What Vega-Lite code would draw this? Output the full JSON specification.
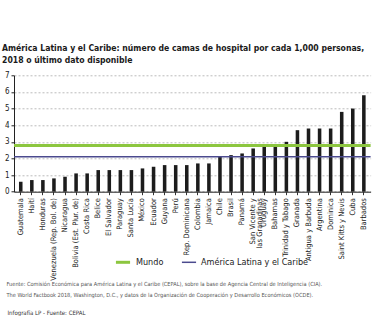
{
  "$schema": "https://vega.github.io/schema/vega-lite/v6.json",
  "width": 356.6,
  "height": 116.4,
  "autosize": {"type": "none"},
  "padding": {"left": 14, "top": 75.3, "right": 4.4, "bottom": 124.3},
  "background": "white",
  "title": {
    "text": ["América Latina y el Caribe: número de camas de hospital por cada 1,000 personas,", "2018 o último dato disponible"],
    "anchor": "start",
    "frame": "group",
    "dx": -12,
    "offset": 7,
    "font": "DejaVu Sans Condensed, Roboto, sans-serif",
    "fontWeight": "bold",
    "fontSize": 8.6,
    "lineHeight": 11.5,
    "color": "#1a1a1a"
  },
  "config": {
    "view": {"stroke": null},
    "font": "DejaVu Sans Condensed, Roboto, sans-serif"
  },
  "layer": [
    {
      "data": {"values": [
        {"pais": "Guatemala", "camas": 0.6},
        {"pais": "Haití", "camas": 0.7},
        {"pais": "Honduras", "camas": 0.7},
        {"pais": "Venezuela (Rep. Bol. de)", "camas": 0.8},
        {"pais": "Nicaragua", "camas": 0.9},
        {"pais": "Bolivia (Est. Plur. de)", "camas": 1.1},
        {"pais": "Costa Rica", "camas": 1.1},
        {"pais": "Belice", "camas": 1.3},
        {"pais": "El Salvador", "camas": 1.3},
        {"pais": "Paraguay", "camas": 1.3},
        {"pais": "Santa Lucía", "camas": 1.3},
        {"pais": "México", "camas": 1.4},
        {"pais": "Ecuador", "camas": 1.5},
        {"pais": "Guyana", "camas": 1.6},
        {"pais": "Perú", "camas": 1.6},
        {"pais": "Rep. Dominicana", "camas": 1.6},
        {"pais": "Colombia", "camas": 1.7},
        {"pais": "Jamaica", "camas": 1.7},
        {"pais": "Chile", "camas": 2.1},
        {"pais": "Brasil", "camas": 2.2},
        {"pais": "Panamá", "camas": 2.3},
        {"pais": "San Vicente y las Granadinas", "camas": 2.6},
        {"pais": "Uruguay", "camas": 2.8},
        {"pais": "Bahamas", "camas": 2.8},
        {"pais": "Trinidad y Tabago", "camas": 3.0},
        {"pais": "Granada", "camas": 3.7},
        {"pais": "Antigua y Barbuda", "camas": 3.8},
        {"pais": "Argentina", "camas": 3.8},
        {"pais": "Dominica", "camas": 3.8},
        {"pais": "Saint Kitts y Nevis", "camas": 4.8},
        {"pais": "Cuba", "camas": 5.0},
        {"pais": "Barbados", "camas": 5.8}
      ]},
      "mark": {"type": "bar", "color": "#1c1c1c"},
      "encoding": {
        "x": {
          "field": "pais", "type": "nominal", "sort": null,
          "scale": {"paddingInner": 0.68, "paddingOuter": 0.45},
          "axis": {
            "labelAngle": -90,
            "labelFont": "DejaVu Sans Condensed, Roboto, sans-serif",
            "labelFontSize": 7.5,
            "labelColor": "#222",
            "labelPadding": 3,
            "labelExpr": "datum.label == 'San Vicente y las Granadinas' ? ['San Vicente y', 'las Granadinas'] : datum.label",
            "labelLineHeight": 6.5,
            "tickColor": "#333",
            "tickSize": 3,
            "domainColor": "#222",
            "title": ["Fuente: Comisión Económica para América Latina y el Caribe (CEPAL), sobre la base de Agencia Central de Inteligencia (CIA).", "The World Factbook 2018, Washington, D.C., y datos de la Organización de Cooperación y Desarrollo Económicos (OCDE)."],
            "titleFont": "DejaVu Sans Condensed, Roboto, sans-serif",
            "titleFontSize": 5.6,
            "titleFontWeight": "normal",
            "titleColor": "#555",
            "titleAnchor": "start",
            "titleAlign": "left",
            "titleBaseline": "alphabetic",
            "titleLineHeight": 11,
            "titleX": -8,
            "titleY": 94
          }
        },
        "y": {
          "field": "camas", "type": "quantitative",
          "scale": {"domain": [0, 7], "nice": false},
          "axis": {
            "tickCount": 7,
            "labelFont": "DejaVu Sans Condensed, Roboto, sans-serif",
            "labelFontSize": 8,
            "labelColor": "#222",
            "labelPadding": 2,
            "tickSize": 3,
            "tickColor": "#222",
            "domainColor": "#222",
            "grid": true,
            "gridDash": [2, 2],
            "gridColor": "#b4b4b4",
            "gridWidth": 0.9,
            "title": "Infografía LP  - Fuente: CEPAL",
            "titleAngle": 0,
            "titleFont": "DejaVu Sans Condensed, Roboto, sans-serif",
            "titleFontSize": 6,
            "titleFontWeight": "normal",
            "titleColor": "#333",
            "titleAlign": "left",
            "titleBaseline": "alphabetic",
            "titleX": -7,
            "titleY": 239
          }
        }
      }
    },
    {
      "data": {"values": [
        {"serie": "Mundo", "valor": 2.78},
        {"serie": "América Latina y el Caribe", "valor": 2.1}
      ]},
      "mark": {"type": "rule"},
      "encoding": {
        "y": {"field": "valor", "type": "quantitative"},
        "color": {
          "field": "serie", "type": "nominal",
          "scale": {"domain": ["Mundo", "América Latina y el Caribe"], "range": ["#8cc63f", "#4b4a8e"]},
          "legend": {
            "orient": "none",
            "direction": "horizontal",
            "legendX": 100,
            "legendY": 178,
            "title": null,
            "symbolType": "stroke",
            "symbolSize": 200,
            "symbolStrokeWidth": 1.5,
            "labelFont": "DejaVu Sans Condensed, Roboto, sans-serif",
            "labelFontSize": 9,
            "labelColor": "#222",
            "columnPadding": 14
          }
        },
        "strokeWidth": {
          "field": "serie", "type": "nominal",
          "scale": {"domain": ["Mundo", "América Latina y el Caribe"], "range": [3, 1.5]},
          "legend": null
        }
      }
    }
  ]
}
